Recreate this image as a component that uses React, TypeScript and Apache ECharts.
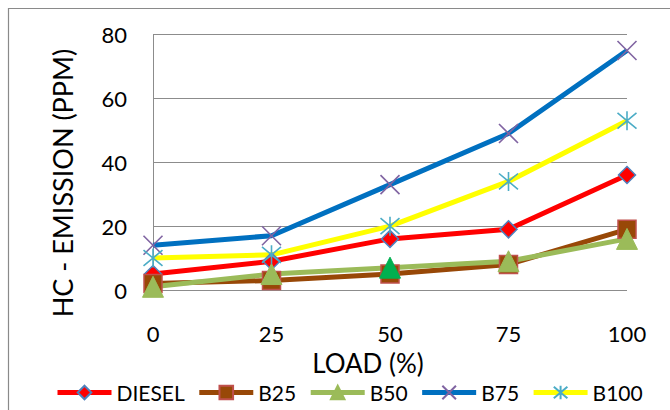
import React, { useEffect, useRef } from "react";
import * as echarts from "echarts";

// Engine load steps (%) and HC emission readings (ppm) for each fuel blend
const loads = ["0", "25", "50", "75", "100"];
const diesel = [5, 9, 16, 19, 36];
const b25 = [2, 3, 5, 8, 19];
const b50 = [1, 5, 7, 9, 16];
const b75 = [14, 17, 33, 49, 75];
const b100 = [10, 11, 20, 34, 53];
const yTicks = [0, 20, 40, 60, 80];

const FONT = "Lato, 'Open Sans', sans-serif";
const GRID_COLOR = "#8c8c8c";

const crossPath = "path://M0 0L10 10M10 0L0 10";
const starPath = "path://M0 0L10 10M10 0L0 10M5 -1L5 11";

export default function App() {
  const ref = useRef<HTMLDivElement>(null);

  useEffect(() => {
    if (!ref.current) return;
    const chart = echarts.init(ref.current, null, { renderer: "svg" });

    const lineSeries = (name: string, data: any[], lineColor: string, symbol: string, size: number, itemStyle: any) => ({
      name,
      type: "line",
      data,
      symbol,
      symbolSize: size,
      showAllSymbol: true,
      lineStyle: { color: lineColor, width: 5 },
      itemStyle,
      emphasis: { disabled: true },
      z: 2,
    });

    // the B50 reading at 50 % load is drawn with a darker green marker
    const b50Data = b50.map((v, i) =>
      i === 2 ? { value: v, itemStyle: { color: "#00b050", borderColor: "#00b050" } } : v
    );

    chart.setOption({
      animation: false,
      textStyle: { fontFamily: FONT },
      grid: { left: 153, right: 43, top: 34.5, bottom: 120, containLabel: false },
      xAxis: {
        type: "category",
        data: loads,
        boundaryGap: false,
        axisLine: { show: false },
        axisTick: { show: false },
        splitLine: { show: false },
        axisLabel: { color: "#000", fontSize: 22, fontFamily: FONT, margin: 32 },
      },
      yAxis: {
        type: "value",
        min: yTicks[0],
        max: yTicks[yTicks.length - 1],
        interval: yTicks[1] - yTicks[0],
        axisLine: { show: true, lineStyle: { color: GRID_COLOR, width: 1 } },
        axisTick: { show: false },
        splitLine: { show: true, lineStyle: { color: GRID_COLOR, width: 1 } },
        axisLabel: { color: "#000", fontSize: 22, fontFamily: FONT, margin: 26 },
      },
      legend: {
        left: 55,
        top: 382,
        padding: 0,
        itemWidth: 54,
        itemHeight: 17,
        itemGap: 12,
        lineStyle: { width: 5 },
        textStyle: { color: "#000", fontSize: 21, fontFamily: FONT },
        data: ["DIESEL", "B25", "B50", "B75", "B100"],
      },
      graphic: [
        {
          type: "rect",
          shape: { x: 8.5, y: 8.5, width: 700, height: 500 },
          style: { fill: "none", stroke: "#8a8a8a", lineWidth: 1.2 },
          silent: true,
        },
        {
          type: "text",
          x: 62,
          y: 183,
          rotation: Math.PI / 2,
          style: {
            text: "HC - EMISSION (PPM)",
            font: `27px ${FONT}`,
            fill: "#000",
            align: "center",
            verticalAlign: "middle",
            textAlign: "center",
            textVerticalAlign: "middle",
          },
          silent: true,
        },
        {
          type: "text",
          x: 368,
          y: 363,
          style: {
            text: "LOAD (%)",
            font: `26px ${FONT}`,
            fill: "#000",
            align: "center",
            verticalAlign: "middle",
            textAlign: "center",
            textVerticalAlign: "middle",
          },
          silent: true,
        },
      ],
      series: [
        lineSeries("DIESEL", diesel, "#ff0000", "diamond", 17, {
          color: "#ff0000",
          borderColor: "#4f81bd",
          borderWidth: 1.5,
        }),
        lineSeries("B25", b25, "#984807", "rect", 18, {
          color: "#984807",
          borderColor: "#c0504d",
          borderWidth: 1.5,
        }),
        lineSeries("B50", b50Data, "#9bbb59", "triangle", 21, {
          color: "#9bbb59",
          borderColor: "#9bbb59",
          borderWidth: 1,
        }),
        lineSeries("B75", b75, "#0070c0", crossPath, 19, {
          color: "transparent",
          borderColor: "#8064a2",
          borderWidth: 1.6,
        }),
        lineSeries("B100", b100, "#ffff00", starPath, 19, {
          color: "transparent",
          borderColor: "#4bacc6",
          borderWidth: 1.6,
        }),
      ],
    });

    return () => chart.dispose();
  }, []);

  return (
    <div
      ref={ref}
      style={{ position: "fixed", left: 0, top: 0, width: 670, height: 410, background: "#fff" }}
    />
  );
}
